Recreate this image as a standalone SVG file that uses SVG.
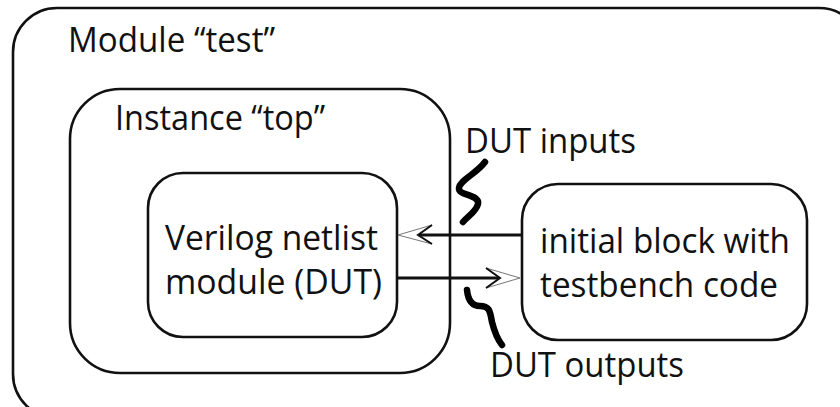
<svg xmlns="http://www.w3.org/2000/svg" width="840" height="407" viewBox="0 0 840 407">
<style>
.box{fill:none;stroke:#111;stroke-width:2.6}
.t{font-family:"Open Sans","Liberation Sans",sans-serif;font-size:35px;fill:#111}
.shaft{stroke:#111;stroke-width:3;fill:none}
.head{fill:#fff;stroke:#777;stroke-width:1}
.sq{fill:none;stroke:#000;stroke-width:6.5;stroke-linecap:round;stroke-linejoin:round}
</style>
<rect width="840" height="407" fill="#fff"/>
<g id="module-test">
<rect class="box" x="13" y="8" width="850" height="410" rx="44"/>
<text class="t" x="68" y="52" textLength="207" lengthAdjust="spacingAndGlyphs">Module “test”</text>
</g>
<g id="instance-top">
<rect class="box" x="70" y="89" width="380" height="284" rx="50"/>
<text class="t" x="115" y="130" textLength="210" lengthAdjust="spacingAndGlyphs">Instance “top”</text>
</g>
<g id="dut">
<rect class="box" x="148" y="173" width="249" height="164" rx="35"/>
<text class="t" x="165" y="250" textLength="213" lengthAdjust="spacingAndGlyphs">Verilog netlist</text>
<text class="t" x="165" y="294" textLength="217" lengthAdjust="spacingAndGlyphs">module (DUT)</text>
</g>
<g id="testbench">
<rect class="box" x="522" y="184" width="285" height="156" rx="36"/>
<text class="t" x="540" y="253" textLength="250" lengthAdjust="spacingAndGlyphs">initial block with</text>
<text class="t" x="540" y="297" textLength="238" lengthAdjust="spacingAndGlyphs">testbench code</text>
</g>
<g id="connectors">
<line class="shaft" x1="522" y1="235" x2="412" y2="235"/>
<path class="head" d="M398,235 L432,225 L418,235 L432,244 Z"/>
<path d="M432,225 L418,235 L432,244" fill="none" stroke="#111" stroke-width="2"/>
<line class="shaft" x1="397" y1="278" x2="506" y2="278"/>
<path class="head" d="M520,278 L486,268 L500,278 L486,288 Z"/>
<path d="M486,268 L500,278 L486,288" fill="none" stroke="#111" stroke-width="2"/>
</g>
<g id="dut-inputs">
<path class="sq" d="M485,162 C476,174 460,180 459,188 C458,196 480,194 478,204 C476,212 468,216 463,222"/>
<text class="t" x="465" y="153" textLength="171" lengthAdjust="spacingAndGlyphs">DUT inputs</text>
</g>
<g id="dut-outputs">
<path class="sq" d="M467,290 C468,300 472,306 480,306 C490,306 490,312 492,322 C495,334 498,340 502,345"/>
<text class="t" x="490" y="377" textLength="194" lengthAdjust="spacingAndGlyphs">DUT outputs</text>
</g>
</svg>
